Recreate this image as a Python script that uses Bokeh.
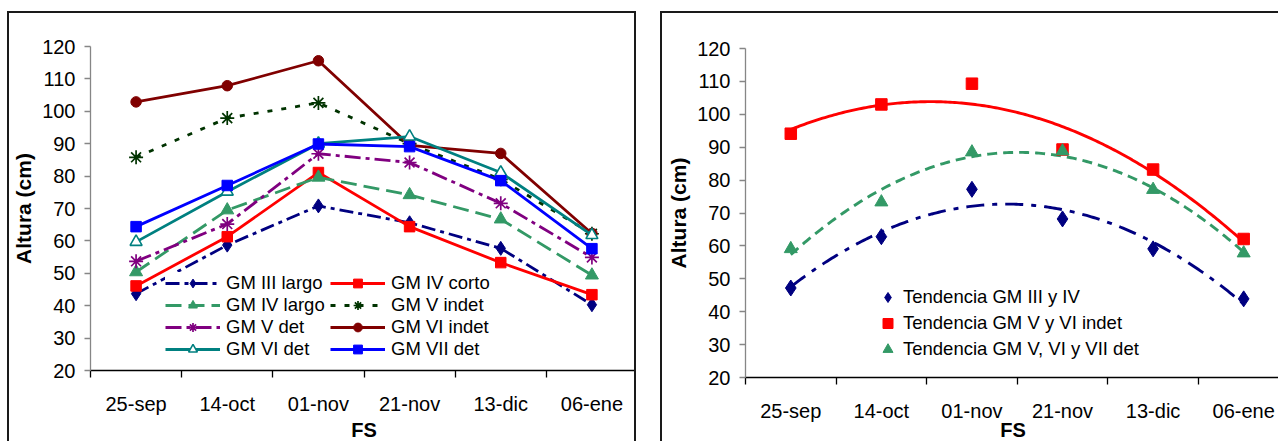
import numpy as np
from bokeh.plotting import figure
from bokeh.models import Range1d, FixedTicker, Legend, LegendItem
from bokeh.layouts import row, column
from bokeh.embed import file_html
from bokeh.resources import INLINE

# ---------------- data ----------------
fechas = ["25-sep", "14-oct", "01-nov", "21-nov", "13-dic", "06-ene"]
y_ticks = [20, 30, 40, 50, 60, 70, 80, 90, 100, 110, 120]

gm_iii_largo = [43.7, 58.7, 70.8, 65.6, 57.7, 40.3]
gm_iv_corto = [46.1, 61.3, 81.1, 64.4, 53.3, 43.4]
gm_iv_largo = [50.4, 69.5, 79.6, 74.2, 66.7, 49.4]
gm_v_indet = [85.8, 97.9, 102.6, 90.0, 79.0, 62.2]
gm_v_det = [53.7, 65.2, 86.9, 84.2, 71.6, 54.9]
gm_vi_indet = [102.9, 107.9, 115.6, 89.5, 87.0, 62.3]
gm_vi_det = [59.7, 75.2, 90.0, 92.2, 81.1, 61.8]
gm_vii_det = [64.4, 77.1, 89.9, 89.1, 78.6, 57.6]

tend_iii_iv = [47.2, 62.8, 77.2, 68.2, 59.1, 43.9]
tend_v_vi_indet = [94.1, 103.0, 109.3, 89.3, 83.2, 62.1]
tend_v_vi_vii_det = [59.1, 73.3, 88.5, 88.8, 77.1, 57.8]

FONT = "Liberation Sans"
xc = [i + 0.5 for i in range(len(fechas))]


def base_fig(width, height, mbl, mbr, mbt, mbb, x_end, styles, margin,
             lab_standoff, title_standoff):
    p = figure(width=width, height=height, x_range=Range1d(0, x_end),
               y_range=Range1d(20, 120), output_backend="svg",
               toolbar_location=None, min_border_left=mbl,
               min_border_right=mbr, min_border_top=mbt, min_border_bottom=mbb)
    p.grid.visible = False
    p.outline_line_color = None
    p.background_fill_color = "white"
    p.border_fill_color = "white"
    xa = p.xaxis[0]
    xa.ticker = FixedTicker(ticks=xc, minor_ticks=list(range(len(fechas) + 1)))
    xa.major_label_overrides = {x: f for x, f in zip(xc, fechas)}
    xa.major_tick_out = 0
    xa.major_tick_in = 0
    xa.minor_tick_out = 7
    xa.minor_tick_in = 0
    xa.minor_tick_line_color = "black"
    xa.minor_tick_line_width = 1.3
    xa.axis_line_color = "black"
    xa.axis_line_width = 1.3
    xa.major_label_text_font = FONT
    xa.major_label_text_font_size = "20px"
    xa.major_label_text_color = "black"
    xa.major_label_standoff = lab_standoff
    xa.axis_label = "FS"
    xa.axis_label_text_font = FONT
    xa.axis_label_text_font_size = "20px"
    xa.axis_label_text_font_style = "bold"
    xa.axis_label_text_color = "black"
    xa.axis_label_standoff = title_standoff

    ya = p.yaxis[0]
    ya.ticker = FixedTicker(ticks=y_ticks)
    ya.major_tick_out = 6
    ya.major_tick_in = 0
    ya.minor_tick_out = 0
    ya.minor_tick_in = 0
    ya.axis_line_color = "#868686"
    ya.axis_line_width = 1.3
    ya.major_tick_line_color = "#868686"
    ya.major_tick_line_width = 1.3
    ya.major_label_text_font = FONT
    ya.major_label_text_font_size = "20px"
    ya.major_label_text_color = "black"
    ya.major_label_standoff = 9
    ya.axis_label = "Altura (cm)"
    ya.axis_label_text_font = FONT
    ya.axis_label_text_font_size = "21px"
    ya.axis_label_text_font_style = "bold"
    ya.axis_label_text_color = "black"
    ya.axis_label_standoff = 4
    p.styles = styles
    p.margin = margin
    return p


BORDER = "2px solid #1a1a1a"

# ---------------- left chart ----------------
p1 = base_fig(629, 430, 79, 1, 33, 73, len(fechas),
              {"border-top": BORDER, "border-left": BORDER, "border-right": BORDER},
              (11, 24, 0, 7), 15, 1)

series = [
    ("GM III largo", gm_iii_largo, "#000080", "14 5 4 5", "diamond", 14, "#000080", 1),
    ("GM IV corto", gm_iv_corto, "#FF0000", "solid", "square", 10.5, "#FF0000", 1),
    ("GM IV largo", gm_iv_largo, "#339966", "16 7", "triangle", 13, "#339966", 1),
    ("GM V indet", gm_v_indet, "#003300", "5 9", "asterisk", 14, "#003300", 1.7),
    ("GM V det", gm_v_det, "#800080", "16 5 4 5", "asterisk", 14, "#800080", 1.7),
    ("GM VI indet", gm_vi_indet, "#800000", "solid", "circle", 10.5, "#800000", 1),
    ("GM VI det", gm_vi_det, "#008080", "solid", "triangle", 12, "white", 1.6),
    ("GM VII det", gm_vii_det, "#0000FF", "solid", "square", 10.5, "#0000FF", 1),
]

items = {}
for name, vals, col, dash, mk, sz, fill, lw in series:
    lr = p1.line(xc, vals, line_color=col, line_width=2.8, line_dash=dash)
    sr = p1.scatter(xc, vals, marker=mk, size=sz, line_color=col,
                    fill_color=fill, line_width=lw)
    items[name] = LegendItem(label=name, renderers=[lr, sr])

order = ["GM III largo", "GM IV corto", "GM IV largo", "GM V indet",
         "GM V det", "GM VI indet", "GM VI det", "GM VII det"]
leg1 = Legend(items=[items[n] for n in order], location=(75, 10),
              orientation="horizontal", ncols=2,
              glyph_width=55, glyph_height=22, label_height=22,
              label_width=104, label_standoff=6, spacing=0, padding=0, margin=0,
              border_line_color=None, background_fill_color="white",
              background_fill_alpha=1.0,
              label_text_font=FONT, label_text_font_size="18.5px",
              label_text_color="black")
p1.add_layout(leg1)

# ---------------- right chart ----------------
x_end = 533 / 90.24
p2 = base_fig(618, 430, 83, 0, 35, 66, x_end,
              {"border-top": BORDER, "border-left": BORDER},
              (11, 0, 0, 0), 15, -6)

xfine = np.linspace(xc[0], xc[-1], 200)
trends = [
    ("Tendencia GM III y IV", tend_iii_iv, "#000080", "18 8 5 8", "diamond", 16),
    ("Tendencia GM V y VI indet", tend_v_vi_indet, "#FF0000", "solid", "square", 11.5),
    ("Tendencia GM V, VI y VII det", tend_v_vi_vii_det, "#339966", "10 6", "triangle", 13),
]
items2 = []
for name, vals, col, dash, mk, sz in trends:
    coef = np.polyfit(np.array(xc), np.array(vals), 2)
    p2.line(xfine, np.polyval(coef, xfine), line_color=col, line_width=2.9,
            line_dash=dash)
for name, vals, col, dash, mk, sz in trends:
    sr = p2.scatter(xc, vals, marker=mk, size=sz, line_color=col, fill_color=col)
    items2.append(LegendItem(label=name, renderers=[sr]))

leg2 = Legend(items=items2, location=(130, 15), orientation="vertical",
              glyph_width=25, glyph_height=26, label_height=26,
              label_standoff=3, spacing=0, padding=0, margin=0,
              border_line_color=None, background_fill_alpha=0,
              label_text_font=FONT, label_text_font_size="18.5px",
              label_text_color="black")
p2.add_layout(leg2)

layout = row(column(p1), column(p2))
open("out.html", "w").write(file_html(layout, INLINE))
